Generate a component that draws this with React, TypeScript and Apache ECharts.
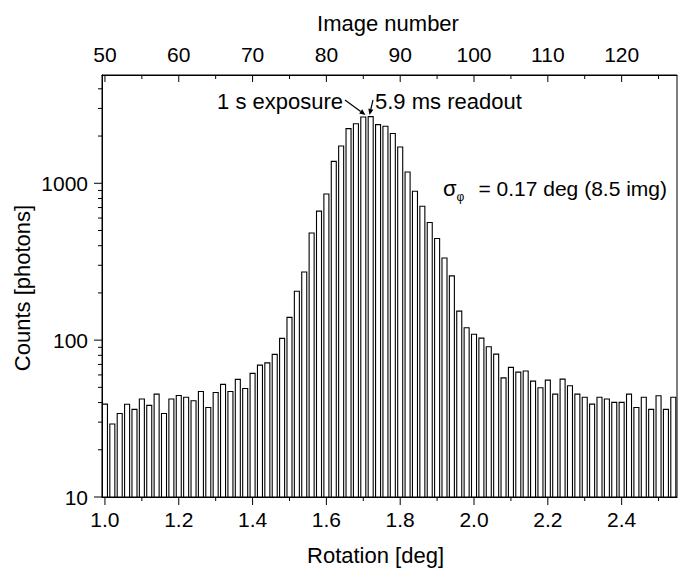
import React, { useEffect, useRef } from "react";
import * as echarts from "echarts";

// ---- data ----
const FIRST_IMAGE = 50;
const DEG_PER_IMAGE = 0.02;
// photon counts per image (images 50..127)
const counts = [
  39.1, 29.2, 34.1, 39.0, 36.2, 42.1, 38.4, 45.3, 34.1, 42.1,
  44.4, 43.2, 41.1, 47.1, 37.2, 46.4, 52.2, 47.1, 56.2, 49.2,
  61.4, 69.3, 71.6, 81.1, 102.6, 139.6, 205, 272, 482, 664,
  855, 1380, 1729, 2229, 2398, 2644, 2660, 2365, 2307, 2075,
  1703, 1180, 889, 714, 562, 445, 334, 257, 153, 120,
  109, 103, 90.7, 81.4, 57.5, 67.0, 62.5, 63.5, 54.8, 49.7,
  55.6, 45.3, 56.4, 51.2, 45.3, 43.2, 39.1, 43.2, 42.1, 40.1,
  40.1, 45.3, 37.2, 43.2, 36.2, 44.2, 36.2, 43.2,
];
const rotationTicks = [1.0, 1.2, 1.4, 1.6, 1.8, 2.0, 2.2, 2.4];
const rotationMinorTicks = [1.1, 1.3, 1.5, 1.7, 1.9, 2.1, 2.3, 2.5];
const imageTicks = [50, 60, 70, 80, 90, 100, 110, 120];
const imageMinorTicks = [55, 65, 75, 85, 95, 105, 115, 125];
const countTicks = [10, 100, 1000];
const countMinorTicks = [20, 30, 40, 50, 60, 70, 80, 90, 200, 300, 400, 500, 600, 700, 800, 900, 2000, 3000, 4000];

const X_MIN = 0.992;
const X_MAX = 2.55;
const Y_MIN = 10;
const Y_MAX = 4900;

const FONT = "'Liberation Sans', Arial, Helvetica, sans-serif";
const FS = 21;
const FS_T = 22;

function arrow(x1: number, y1: number, x2: number, y2: number) {
  const dx = x2 - x1, dy = y2 - y1;
  const len = Math.sqrt(dx * dx + dy * dy);
  const ux = dx / len, uy = dy / len;
  const hl = 6, hw = 2.6;
  const bx = x2 - ux * hl, by = y2 - uy * hl;
  return [
    { type: "line", shape: { x1, y1, x2: bx, y2: by }, style: { stroke: "#000", lineWidth: 1.2 }, silent: true },
    {
      type: "polygon",
      shape: { points: [[x2, y2], [bx - uy * hw, by + ux * hw], [bx + uy * hw, by - ux * hw]] },
      style: { fill: "#000" },
      silent: true,
    },
  ];
}

export default function App() {
  const ref = useRef<HTMLDivElement>(null);
  useEffect(() => {
    if (!ref.current) return;
    const chart = echarts.init(ref.current, null, { renderer: "svg" });

    const barData = counts.map((c, i) => [(FIRST_IMAGE + i) * DEG_PER_IMAGE, c]);
    // tick data: [x, y, kind]
    const tickData: number[][] = [];
    countTicks.forEach((v) => tickData.push([X_MIN, v, 0]));
    countMinorTicks.forEach((v) => tickData.push([X_MIN, v, 1]));
    rotationTicks.forEach((v) => tickData.push([v, Y_MIN, 2]));
    rotationMinorTicks.forEach((v) => tickData.push([v, Y_MIN, 3]));
    imageTicks.forEach((v) => tickData.push([v * DEG_PER_IMAGE, Y_MAX, 4]));
    imageMinorTicks.forEach((v) => tickData.push([v * DEG_PER_IMAGE, Y_MAX, 5]));

    const labelStyle = { color: "#000", fontSize: FS, fontFamily: FONT };

    chart.setOption({
      animation: false,
      grid: {
        left: 102,
        right: 5,
        top: 75,
        bottom: 71,
        show: true,
        borderColor: "#000",
        borderWidth: 1,
        outerBoundsMode: "none",
      },
      xAxis: [
        {
          type: "value",
          position: "bottom",
          min: X_MIN,
          max: X_MAX,
          axisLine: { show: true, lineStyle: { color: "#000", width: 1 } },
          axisTick: { show: false },
          splitLine: { show: false },
          axisLabel: {
            ...labelStyle,
            margin: 12,
            customValues: rotationTicks,
            formatter: (v: number) => v.toFixed(1),
          },
        },
        {
          type: "value",
          position: "top",
          min: X_MIN / DEG_PER_IMAGE,
          max: X_MAX / DEG_PER_IMAGE,
          axisLine: { show: true, lineStyle: { color: "#000", width: 1 } },
          axisTick: { show: false },
          splitLine: { show: false },
          axisLabel: {
            ...labelStyle,
            margin: 10,
            customValues: imageTicks,
            formatter: (v: number) => String(Math.round(v)),
          },
        },
      ],
      yAxis: [
        {
          type: "log",
          logBase: 10,
          min: Y_MIN,
          max: Y_MAX,
          axisLine: { show: true, lineStyle: { color: "#000", width: 1 } },
          axisTick: { show: false },
          splitLine: { show: false },
          minorTick: { show: false },
          axisLabel: {
            ...labelStyle,
            margin: 14,
            showMaxLabel: false,
            formatter: (v: number) => {
              const r = Math.round(v);
              return countTicks.indexOf(r) >= 0 ? String(r) : "";
            },
          },
        },
      ],
      series: [
        {
          type: "custom",
          name: "counts",
          xAxisIndex: 0,
          yAxisIndex: 0,
          data: barData,
          encode: { x: 0, y: 1 },
          renderItem: (params: any, api: any) => {
            const x = api.value(0);
            const v = api.value(1);
            const top = api.coord([x, v]);
            const base = api.coord([x, Y_MIN]);
            const step = api.coord([x + DEG_PER_IMAGE, v])[0] - top[0];
            const w = step * 0.68;
            return {
              type: "rect",
              shape: { x: top[0] - w / 2, y: top[1], width: w, height: base[1] - top[1] },
              style: { fill: "#fff", stroke: "#000", lineWidth: 1.1 },
            };
          },
          z: 2,
        },
        {
          type: "custom",
          name: "ticks",
          xAxisIndex: 0,
          yAxisIndex: 0,
          data: tickData,
          dimensions: ["x", "y", "kind"],
          encode: { x: 0, y: 1 },
          silent: true,
          renderItem: (params: any, api: any) => {
            const p = api.coord([api.value(0), api.value(1)]);
            const kind = api.value(2);
            let dx = 0, dy = 0;
            if (kind === 0) dx = -8;
            else if (kind === 1) dx = -4;
            else if (kind === 2) dy = 8;
            else if (kind === 3) dy = 4;
            else if (kind === 4) dy = 7;
            else dy = 4;
            return {
              type: "line",
              shape: { x1: p[0], y1: p[1], x2: p[0] + dx, y2: p[1] + dy },
              style: { stroke: "#000", lineWidth: 1 },
            };
          },
          z: 3,
        },
      ],
      graphic: [
        {
          type: "text",
          x: 388,
          y: 23,
          style: { text: "Image number", fontSize: FS_T, fontFamily: FONT, fill: "#000", align: "center", verticalAlign: "middle" },
        },
        {
          type: "text",
          x: 375.5,
          y: 555,
          style: { text: "Rotation [deg]", fontSize: FS_T, fontFamily: FONT, fill: "#000", align: "center", verticalAlign: "middle" },
        },
        {
          type: "text",
          x: 22,
          y: 288,
          rotation: Math.PI / 2,
          style: { text: "Counts [photons]", fontSize: FS_T, fontFamily: FONT, fill: "#000", align: "center", verticalAlign: "middle" },
        },
        {
          type: "text",
          x: 343,
          y: 101,
          style: { text: "1 s exposure", fontSize: FS_T, fontFamily: FONT, fill: "#000", align: "right", verticalAlign: "middle" },
        },
        {
          type: "text",
          x: 375,
          y: 101,
          style: { text: "5.9 ms readout", fontSize: FS_T, fontFamily: FONT, fill: "#000", align: "left", verticalAlign: "middle" },
        },
        {
          type: "text",
          x: 443,
          y: 188.5,
          style: { text: "σ", fontSize: FS_T, fontFamily: FONT, fill: "#000", align: "left", verticalAlign: "middle" },
        },
        {
          type: "text",
          x: 456.5,
          y: 196.5,
          style: { text: "φ", fontSize: 12, fontFamily: FONT, fill: "#000", align: "left", verticalAlign: "middle" },
        },
        {
          type: "text",
          x: 667,
          y: 188.5,
          style: { text: " = 0.17 deg (8.5 img)", fontSize: FS, fontFamily: FONT, fill: "#000", align: "right", verticalAlign: "middle" },
        },
        ...arrow(345, 100, 365.5, 115),
        ...arrow(373, 100, 369.5, 115),
      ],
    });
    return () => chart.dispose();
  }, []);
  return (
    <div
      ref={ref}
      style={{ position: "fixed", left: 0, top: 0, width: 682, height: 568, background: "#fff" }}
    />
  );
}
